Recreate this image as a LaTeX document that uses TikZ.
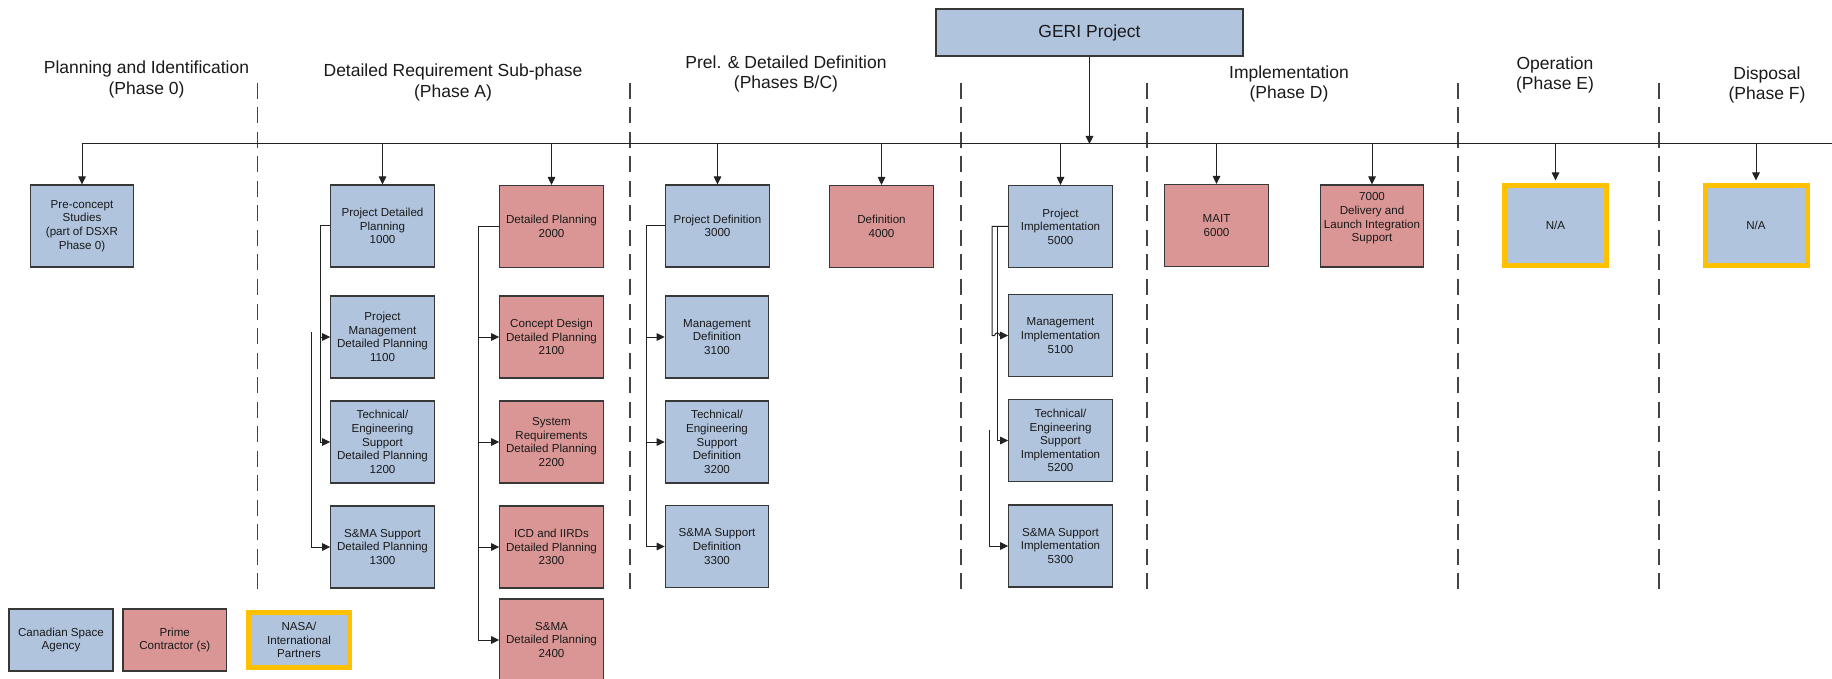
\documentclass[tikz,border=0pt]{standalone}
\usepackage{fontspec}
\setmainfont{Liberation Sans}
\usetikzlibrary{arrows.meta}

\definecolor{csablue}{HTML}{B0C4DE}
\definecolor{primered}{HTML}{D99694}
\definecolor{partnerorange}{HTML}{FFC000}
\definecolor{edge}{HTML}{383838}
\definecolor{wire}{HTML}{222222}
\definecolor{phaseline}{HTML}{444444}
\definecolor{ink}{HTML}{1A1A1A}

\tikzset{
  wbs/.style={draw=edge, line width=1.1pt, minimum width=103.5pt, minimum height=82pt,
    inner sep=1pt, align=center, text=ink, font=\fontsize{11.6}{13.6}\selectfont},
  csa/.style={wbs, fill=csablue},
  prime/.style={wbs, fill=primered},
  partner/.style={wbs, fill=csablue, draw=partnerorange, line width=5pt,
    minimum width=102pt, minimum height=80pt},
  phasetitle/.style={align=center, text=ink, font=\fontsize{17.5}{20.5}\selectfont},
  feed/.style={draw=wire, line width=1pt, -{Triangle[length=8pt,width=7.5pt]}},
  bus/.style={draw=wire, line width=1pt},
  phasesep/.style={draw=phaseline, line width=1.2pt, dash pattern=on 16pt off 8.5pt},
}

\begin{document}
\begin{tikzpicture}[x=1pt, y=-1pt]
\useasboundingbox (0,0) rectangle (1832,679);
\fill[white] (0,0) rectangle (1832,679);

% phase separators
\foreach \x in {257.6, 630, 961, 1147, 1458, 1659}
  \draw[phasesep] (\x,83) -- (\x,597);

% phase titles
\node[phasetitle] (t0)  at (146.5,79.5) {Planning and Identification\\(Phase 0)};
\node[phasetitle] (tA)  at (453,82.5)   {Detailed Requirement Sub-phase\\(Phase A)};
\node[phasetitle] (tBC) at (786,74)     {Prel. \& Detailed Definition\\(Phases B/C)};
\node[phasetitle] (tD)  at (1289,84)    {Implementation\\(Phase D)};
\node[phasetitle] (tE)  at (1555,75)    {Operation\\(Phase E)};
\node[phasetitle] (tF)  at (1767,85)    {Disposal\\(Phase F)};

% top of the breakdown
\node[csa, minimum width=307pt, minimum height=47pt,
      font=\fontsize{17.5}{20.5}\selectfont] (geri) at (1089.5,32.5) {GERI Project};

% work packages
\node[csa]   (pre)   at (82,226)      {Pre-concept\\Studies\\(part of DSXR\\Phase 0)};
\node[csa]   (p1000) at (382.5,226)   {Project Detailed\\Planning\\1000};
\node[csa]   (p1100) at (382.5,337)   {Project\\Management\\Detailed Planning\\1100};
\node[csa]   (p1200) at (382.5,442)   {Technical/\\Engineering\\Support\\Detailed Planning\\1200};
\node[csa]   (p1300) at (382.5,547)   {S\&MA Support\\Detailed Planning\\1300};
\node[prime] (p2000) at (551.5,226.5) {Detailed Planning\\2000};
\node[prime] (p2100) at (551.5,337)   {Concept Design\\Detailed Planning\\2100};
\node[prime] (p2200) at (551.5,442)   {System\\Requirements\\Detailed Planning\\2200};
\node[prime] (p2300) at (551.5,547)   {ICD and IIRDs\\Detailed Planning\\2300};
\node[prime] (p2400) at (551.5,640)   {S\&MA\\Detailed Planning\\2400};
\node[csa]   (p3000) at (717.5,226)   {Project Definition\\3000};
\node[csa]   (p3100) at (717,337)     {Management\\Definition\\3100};
\node[csa]   (p3200) at (717,442)     {Technical/\\Engineering\\Support\\Definition\\3200};
\node[csa]   (p3300) at (717,546.5)   {S\&MA Support\\Definition\\3300};
\node[prime] (p4000) at (881.5,226.5) {Definition\\4000};
\node[csa]   (p5000) at (1060.5,226.5) {Project\\Implementation\\5000};
\node[csa]   (p5100) at (1060.5,335.5) {Management\\Implementation\\5100};
\node[csa]   (p5200) at (1060.5,440.5) {Technical/\\Engineering\\Support\\Implementation\\5200};
\node[csa]   (p5300) at (1060.5,546)   {S\&MA Support\\Implementation\\5300};
\node[prime] (p6000) at (1216.5,225.5) {MAIT\\6000};
\node[prime] (p7000) at (1372,226)     {7000\\Delivery and\\Launch Integration\\Support\\\strut};
\node[partner] (opE)  at (1555.5,225.5) {N/A};
\node[partner] (disF) at (1756,225.5)   {N/A};

% legend
\node[csa, minimum width=104pt, minimum height=62pt] (lgcsa) at (61,640) {Canadian Space\\Agency};
\node[prime, minimum width=103.5pt, minimum height=62pt] (lgprime) at (174.75,640) {Prime\\Contractor (s)};
\node[partner, minimum width=101pt, minimum height=55pt] (lgpartner) at (299,640) {NASA/\\International\\Partners};

% main distribution bus
\coordinate (busL) at (82,144);
\coordinate (busR) at (1832,144);
\draw[bus] (busL) -- (busR);
\draw[feed] (geri.south) -- (geri.south |- busL);
\foreach \n in {pre,p1000,p2000,p3000,p4000,p5000,p6000,p7000}
  \draw[feed] (\n.north |- busL) -- (\n.north);
\foreach \n in {opE,disF}
  \draw[feed] (\n.north |- busL) -- ([yshift=2.5pt]\n.north);

% Phase A branches
\foreach \n in {p1100,p1200}
  \draw[feed] (p1000.west) -- ++(-10,0) |- (\n.west);
\coordinate (tail1300) at (311.5,332);
\draw[feed] (tail1300) |- (p1300.west);
\foreach \n in {p2100,p2200,p2300,p2400}
  \draw[feed] (p2000.west) -- ++(-21,0) |- (\n.west);

% Phase B/C branches
\foreach \n in {p3100,p3200,p3300}
  \draw[feed] (p3000.west) -- ++(-19,0) |- (\n.west);

% Phase D branches
\draw[feed] (p5000.west) -- ++(-16,0) |- ([xshift=-13.5pt]p5100.west)
  .. controls +(0,-3.5) and +(0,-3.5) .. ([xshift=-8.5pt]p5100.west) -- (p5100.west);
\draw[feed] (p5000.west) -- ++(-11,0) |- (p5200.west);
\coordinate (tail5300) at (989,430);
\draw[feed] (tail5300) |- (p5300.west);
\end{tikzpicture}
\end{document}
